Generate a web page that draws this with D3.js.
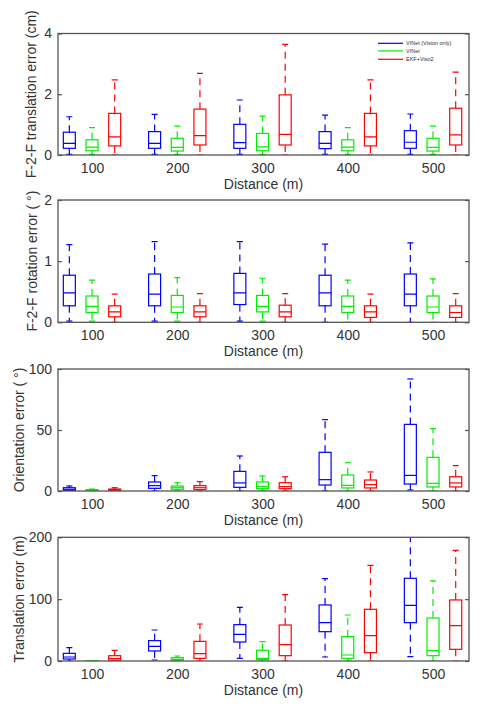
<!DOCTYPE html>
<html><head><meta charset="utf-8">
<script src="https://cdn.jsdelivr.net/npm/d3@7"></script>
<style>body{margin:0;background:#fff}svg{display:block}</style>
</head><body>
<svg id="c" width="493" height="714"></svg>
<script>
// ---------- DATA ----------
const distances = ["100", "200", "300", "400", "500"];
const seriesNames = ["VINet (Vision only)", "VINet", "EKF+Viso2"];
const seriesColors = ["#0000ff", "#00ee00", "#ff0000"];
// each entry: [lower whisker, Q1, median, Q3, upper whisker]
const f2fTransVision = [[0.02,0.22,0.38,0.75,1.26],[0.02,0.22,0.38,0.77,1.34],[0.02,0.22,0.41,1.01,1.81],[0.02,0.21,0.38,0.77,1.31],[0.02,0.22,0.42,0.80,1.35]];
const f2fTransVINet  = [[0.02,0.14,0.26,0.50,0.90],[0.02,0.13,0.25,0.55,0.95],[0.02,0.14,0.27,0.71,1.28],[0.02,0.14,0.26,0.50,0.90],[0.02,0.13,0.25,0.55,0.95]];
const f2fTransEKF    = [[0.00,0.30,0.60,1.37,2.47],[0.00,0.33,0.64,1.51,2.69],[0.00,0.33,0.68,1.98,3.64],[0.00,0.30,0.60,1.37,2.47],[0.00,0.33,0.66,1.54,2.73]];

const f2fRotVision = [[0.02,0.27,0.48,0.77,1.27],[0.02,0.27,0.46,0.79,1.32],[0.02,0.29,0.48,0.80,1.32],[0.00,0.27,0.48,0.77,1.28],[0.00,0.27,0.46,0.79,1.30]];
const f2fRotVINet  = [[0.02,0.16,0.26,0.43,0.69],[0.02,0.16,0.25,0.44,0.73],[0.02,0.17,0.26,0.44,0.72],[0.00,0.16,0.26,0.43,0.69],[0.00,0.16,0.25,0.43,0.71]];
const f2fRotEKF    = [[0.00,0.09,0.17,0.27,0.46],[0.00,0.09,0.17,0.27,0.47],[0.00,0.09,0.17,0.28,0.47],[0.00,0.08,0.17,0.27,0.46],[0.00,0.08,0.16,0.27,0.47]];

const orientVision = [[0,0.5,1.4,2.7,4.1],[0,2.2,4.4,7.4,12.6],[0,3.0,6.6,16.1,28.7],[0,4.9,9.3,31.7,58.5],[0.8,5.7,12.8,54.6,91.8]];
const orientVINet  = [[0,0.3,0.5,1.1,1.6],[0,1.4,2.7,4.1,6.8],[0,1.9,3.8,7.4,12.3],[0,2.5,4.6,13.1,23.2],[0,3.3,6.3,27.6,51.1]];
const orientEKF    = [[0,0.5,1.1,1.6,2.7],[0,1.1,2.7,4.4,7.7],[0,1.9,3.6,6.8,11.7],[0,2.5,5.2,9.0,15.6],[0,3.3,6.6,11.7,20.8]];

const transVision = [[0,3.2,6.5,12.4,21.6],[1.6,16.2,23.7,32.9,50.1],[4.3,30.7,43.1,58.8,86.8],[6.5,47.4,62.0,90.6,133.2],[7.0,62.0,90.0,133.7,215]];
const transVINet  = [[0,0.1,0.2,0.3,0.5],[0,1.1,2.7,5.4,8.1],[0,2.2,4.3,17.3,31.3],[0,4.3,9.7,39.4,74.4],[0,8.6,16.7,69.5,129.4]];
const transEKF    = [[0,1.1,3.8,8.6,17.3],[0,4.3,11.9,31.8,59.8],[0,8.6,26.4,58.2,107.3],[0,13.5,41.0,83.6,154.7],[0,18.9,57.1,98.7,179]];

const panelLabels = ["F-2-F translation error (cm)", "F-2-F rotation error ( °)", "Orientation error ( °)", "Translation error (m)"];
const yDomains = [[0,4],[0,2],[0,100],[0,200]];
const yTicks = [[0,2,4],[0,1,2],[0,50,100],[0,100,200]];
const xLabel = "Distance (m)";

const panels = [
  [f2fTransVision, f2fTransVINet, f2fTransEKF],
  [f2fRotVision, f2fRotVINet, f2fRotEKF],
  [orientVision, orientVINet, orientEKF],
  [transVision, transVINet, transEKF]
];

// ---------- LAYOUT ----------
const svg = d3.select("#c");
const font = "'Liberation Sans', Arial, Helvetica, sans-serif";
const left = 58, right = 469;
const panelTB = [[33.5,155],[200,322.3],[369,491],[537.3,661]];
const yLabelX = [36, 37, 24, 24];
const x = d3.scaleLinear().domain([0.601, 5.422]).range([left, right]);
const offset = 0.266, boxW = 12, capW = 6;
const axisCol = "#555", textCol = "#333";

panels.forEach((series, pi) => {
  const [top, bot] = panelTB[pi];
  const y = d3.scaleLinear().domain(yDomains[pi]).range([bot, top]);
  const g = svg.append("g");
  const clipId = "clip" + pi;
  svg.append("clipPath").attr("id", clipId).append("rect")
    .attr("x", left).attr("y", top).attr("width", right-left).attr("height", bot-top);
  const plot = g.append("g").attr("clip-path", `url(#${clipId})`);

  series.forEach((arr, si) => {
    const col = seriesColors[si];
    arr.forEach((d, di) => {
      const cx = x(di + 1 + (si - 1) * offset);
      const [lo, q1, med, q3, hi] = d;
      const bg = plot.append("g").attr("stroke", col).attr("fill", "none").attr("stroke-width", 1.2);
      bg.append("line").attr("x1", cx).attr("x2", cx).attr("y1", y(q3)).attr("y2", y(hi)).attr("stroke-dasharray", "7,5");
      bg.append("line").attr("x1", cx).attr("x2", cx).attr("y1", y(q1)).attr("y2", y(lo)).attr("stroke-dasharray", "7,5");
      bg.append("line").attr("x1", cx-capW/2).attr("x2", cx+capW/2).attr("y1", y(hi)).attr("y2", y(hi));
      bg.append("line").attr("x1", cx-capW/2).attr("x2", cx+capW/2).attr("y1", y(lo)).attr("y2", y(lo));
      bg.append("rect").attr("x", cx-boxW/2).attr("width", boxW).attr("y", y(q3)).attr("height", Math.max(0.5, y(q1)-y(q3)));
      bg.append("line").attr("x1", cx-boxW/2).attr("x2", cx+boxW/2).attr("y1", y(med)).attr("y2", y(med));
    });
  });

  g.append("rect").attr("x", left).attr("y", top).attr("width", right-left).attr("height", bot-top)
    .attr("fill", "none").attr("stroke", axisCol).attr("stroke-width", 1.3);

  const yAxis = d3.axisLeft(y).tickValues(yTicks[pi]).tickSizeInner(-4).tickSizeOuter(0).tickPadding(6).tickFormat(d3.format("d"));
  const ya = g.append("g").attr("transform", `translate(${left},0)`).call(yAxis);
  ya.select(".domain").remove();
  ya.selectAll(".tick line").attr("stroke", axisCol).attr("stroke-width", 1.2);
  ya.selectAll(".tick text").attr("fill", textCol).style("font-family", font).style("font-size", "14px");
  const yAxisR = d3.axisRight(y).tickValues(yTicks[pi]).tickSizeInner(-4).tickSizeOuter(0).tickFormat("");
  const yr = g.append("g").attr("transform", `translate(${right},0)`).call(yAxisR);
  yr.select(".domain").remove();
  yr.selectAll(".tick line").attr("stroke", axisCol).attr("stroke-width", 1.2);

  const xAxis = d3.axisBottom(x).tickValues([1,2,3,4,5]).tickSize(0).tickPadding(8).tickFormat((d) => distances[d-1]);
  const xa = g.append("g").attr("transform", `translate(0,${bot})`).call(xAxis);
  xa.select(".domain").remove();
  xa.selectAll(".tick text").attr("fill", textCol).style("font-family", font).style("font-size", "14px");

  g.append("text").attr("x", (left+right)/2).attr("y", bot + 34).attr("text-anchor", "middle")
    .attr("fill", textCol).style("font-family", font).style("font-size", "14px").text(xLabel);
  g.append("text").attr("transform", `translate(${yLabelX[pi]},${(top+bot)/2}) rotate(-90)`).attr("text-anchor", "middle")
    .attr("fill", textCol).style("font-family", font).style("font-size", "14px").text(panelLabels[pi]);
});

const lg = svg.append("g");
const legY = [43.3, 50.9, 59.3];
seriesNames.forEach((n, i) => {
  lg.append("line").attr("x1", 378).attr("x2", 403).attr("y1", legY[i]).attr("y2", legY[i])
    .attr("stroke", seriesColors[i]).attr("stroke-width", 1.2);
  lg.append("text").attr("x", 406).attr("y", legY[i]).attr("dy", "0.35em").attr("fill", textCol)
    .style("font-family", font).style("font-size", "5.5px").text(n);
});
</script>
</body></html>
